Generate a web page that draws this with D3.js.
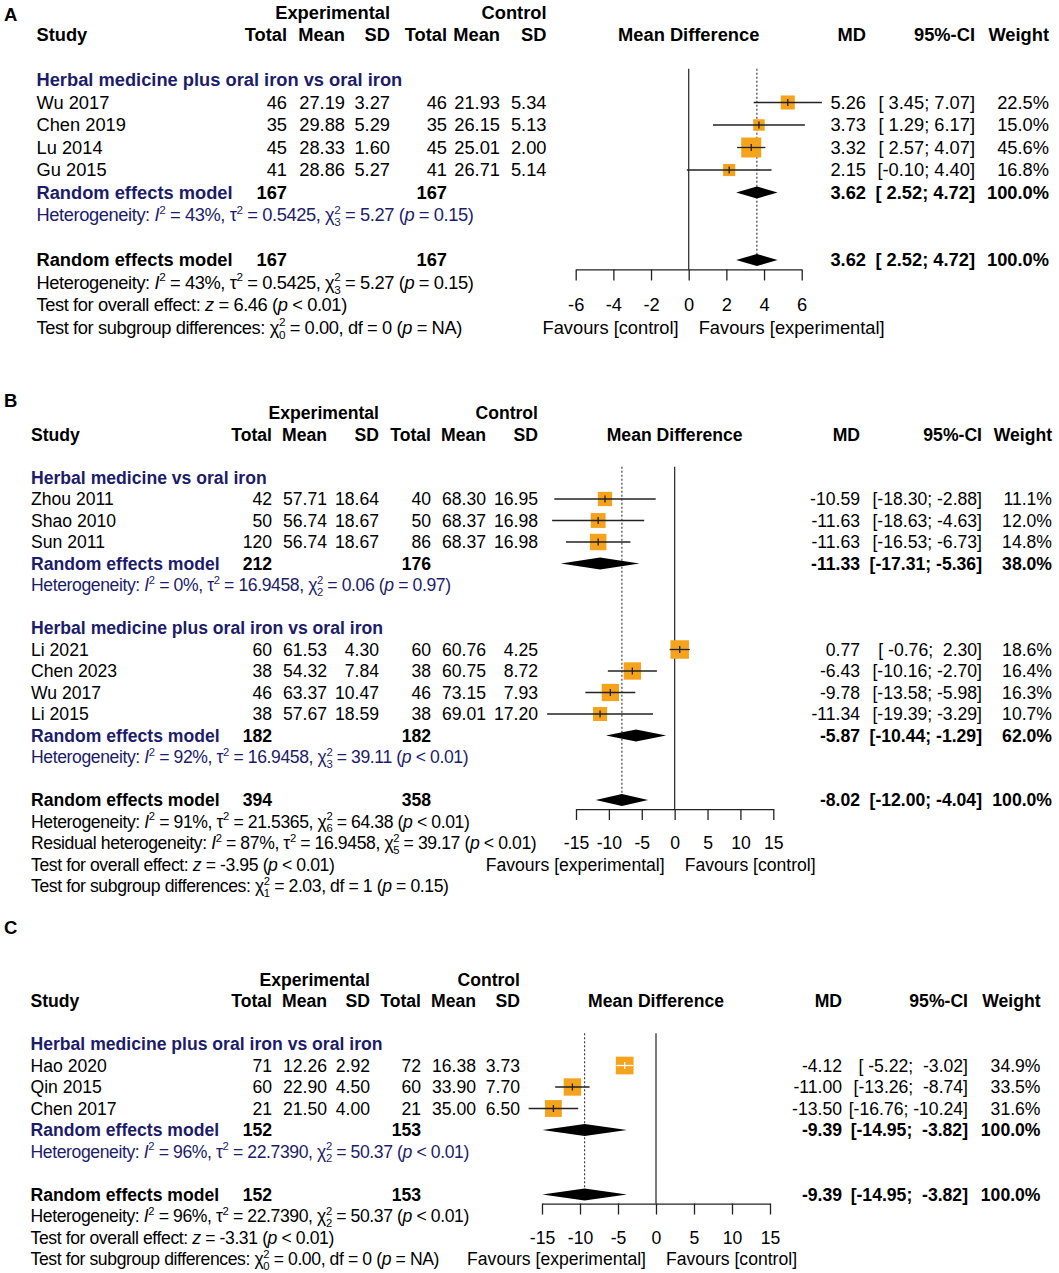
<!DOCTYPE html>
<html>
<head>
<meta charset="utf-8">
<style>
  body { margin: 0; background: #fff; }
  svg text { font-family: "Liberation Sans", Arial, Helvetica, sans-serif; white-space: pre; }
</style>
</head>
<body>
<div id="chart"></div>
<script src="https://d3js.org/d3.v7.min.js"></script>
<script>
// ---------- panel A ----------
const ticksA = [-6, -4, -2, 0, 2, 4, 6];
const favoursA = ['Favours [control]', 'Favours [experimental]'];
const groupA1 = 'Herbal medicine plus oral iron vs oral iron';
const studiesA1 = [
  { study: 'Wu 2017',   eN: 46, eM: 27.19, eSD: 3.27, cN: 46, cM: 21.93, cSD: 5.34, md: 5.26, lo: 3.45, hi: 7.07, w: 22.5 },
  { study: 'Chen 2019', eN: 35, eM: 29.88, eSD: 5.29, cN: 35, cM: 26.15, cSD: 5.13, md: 3.73, lo: 1.29, hi: 6.17, w: 15.0 },
  { study: 'Lu 2014',   eN: 45, eM: 28.33, eSD: 1.60, cN: 45, cM: 25.01, cSD: 2.00, md: 3.32, lo: 2.57, hi: 4.07, w: 45.6 },
  { study: 'Gu 2015',   eN: 41, eM: 28.86, eSD: 5.27, cN: 41, cM: 26.71, cSD: 5.14, md: 2.15, lo: -0.10, hi: 4.40, w: 16.8 },
];
const poolA1 = { eN: 167, cN: 167, md: 3.62, lo: 2.52, hi: 4.72, w: 100.0 };
const hetA1 = { i2: '43%', tau2: '0.5425', df: '3', q: '5.27', p: '= 0.15' };
const overallA = { eN: 167, cN: 167, md: 3.62, lo: 2.52, hi: 4.72, w: 100.0 };
const hetOverallA = { i2: '43%', tau2: '0.5425', df: '3', q: '5.27', p: '= 0.15' };
const testA = { z: '6.46', p: '< 0.01' };
const subTestA = { q: '0.00', df: '0', p: '= NA' };

// ---------- panel B ----------
const ticksB = [-15, -10, -5, 0, 5, 10, 15];
const favoursB = ['Favours [experimental]', 'Favours [control]'];
const groupB1 = 'Herbal medicine vs oral iron';
const studiesB1 = [
  { study: 'Zhou 2011', eN: 42,  eM: 57.71, eSD: 18.64, cN: 40, cM: 68.30, cSD: 16.95, md: -10.59, lo: -18.30, hi: -2.88, w: 11.1 },
  { study: 'Shao 2010', eN: 50,  eM: 56.74, eSD: 18.67, cN: 50, cM: 68.37, cSD: 16.98, md: -11.63, lo: -18.63, hi: -4.63, w: 12.0 },
  { study: 'Sun 2011',  eN: 120, eM: 56.74, eSD: 18.67, cN: 86, cM: 68.37, cSD: 16.98, md: -11.63, lo: -16.53, hi: -6.73, w: 14.8 },
];
const poolB1 = { eN: 212, cN: 176, md: -11.33, lo: -17.31, hi: -5.36, w: 38.0 };
const hetB1 = { i2: '0%', tau2: '16.9458', df: '2', q: '0.06', p: '= 0.97' };
const groupB2 = 'Herbal medicine plus oral iron vs oral iron';
const studiesB2 = [
  { study: 'Li 2021',   eN: 60, eM: 61.53, eSD: 4.30,  cN: 60, cM: 60.76, cSD: 4.25,  md: 0.77,   lo: -0.76,  hi: 2.30,  w: 18.6 },
  { study: 'Chen 2023', eN: 38, eM: 54.32, eSD: 7.84,  cN: 38, cM: 60.75, cSD: 8.72,  md: -6.43,  lo: -10.16, hi: -2.70, w: 16.4 },
  { study: 'Wu 2017',   eN: 46, eM: 63.37, eSD: 10.47, cN: 46, cM: 73.15, cSD: 7.93,  md: -9.78,  lo: -13.58, hi: -5.98, w: 16.3 },
  { study: 'Li 2015',   eN: 38, eM: 57.67, eSD: 18.59, cN: 38, cM: 69.01, cSD: 17.20, md: -11.34, lo: -19.39, hi: -3.29, w: 10.7 },
];
const poolB2 = { eN: 182, cN: 182, md: -5.87, lo: -10.44, hi: -1.29, w: 62.0 };
const hetB2 = { i2: '92%', tau2: '16.9458', df: '3', q: '39.11', p: '< 0.01' };
const overallB = { eN: 394, cN: 358, md: -8.02, lo: -12.00, hi: -4.04, w: 100.0 };
const hetOverallB = { i2: '91%', tau2: '21.5365', df: '6', q: '64.38', p: '< 0.01' };
const residB = { i2: '87%', tau2: '16.9458', df: '5', q: '39.17', p: '< 0.01' };
const testB = { z: '-3.95', p: '< 0.01' };
const subTestB = { q: '2.03', df: '1', p: '= 0.15' };

// ---------- panel C ----------
const ticksC = [-15, -10, -5, 0, 5, 10, 15];
const favoursC = ['Favours [experimental]', 'Favours [control]'];
const groupC1 = 'Herbal medicine plus oral iron vs oral iron';
const studiesC1 = [
  { study: 'Hao 2020',  eN: 71, eM: 12.26, eSD: 2.92, cN: 72, cM: 16.38, cSD: 3.73, md: -4.12,  lo: -5.22,  hi: -3.02,  w: 34.9 },
  { study: 'Qin 2015',  eN: 60, eM: 22.90, eSD: 4.50, cN: 60, cM: 33.90, cSD: 7.70, md: -11.00, lo: -13.26, hi: -8.74,  w: 33.5 },
  { study: 'Chen 2017', eN: 21, eM: 21.50, eSD: 4.00, cN: 21, cM: 35.00, cSD: 6.50, md: -13.50, lo: -16.76, hi: -10.24, w: 31.6 },
];
const poolC1 = { eN: 152, cN: 153, md: -9.39, lo: -14.95, hi: -3.82, w: 100.0 };
const hetC1 = { i2: '96%', tau2: '22.7390', df: '2', q: '50.37', p: '< 0.01' };
const overallC = { eN: 152, cN: 153, md: -9.39, lo: -14.95, hi: -3.82, w: 100.0 };
const hetOverallC = { i2: '96%', tau2: '22.7390', df: '2', q: '50.37', p: '< 0.01' };
const testC = { z: '-3.31', p: '< 0.01' };
const subTestC = { q: '0.00', df: '0', p: '= NA' };

// ---------- layout ----------
const width = 1059;
const height = 1273;
const squareColor = '#f5a31d';
const navy = '#1c1c6b';

const panels = [
  {
    letter: 'A', letterY: 15, top: 35, step: 22.5, fs: 18.3,
    cols: { study: 36.5, eN: 287, eM: 345, eSD: 390, cN: 447, cM: 500, cSD: 546.5, md: 866, ci: 975, w: 1049 },
    plot: [575.7, 801.7], maxSide: 20, ticks: ticksA, favours: favoursA,
    groups: [{ name: groupA1, studies: studiesA1, pool: poolA1, het: hetA1 }],
    overall: overallA, het: hetOverallA, resid: null, test: testA, sub: subTestA,
  },
  {
    letter: 'B', letterY: 401, top: 434.5, step: 21.5, fs: 17.6,
    cols: { study: 31, eN: 272, eM: 327, eSD: 379, cN: 431, cM: 486, cSD: 538, md: 860, ci: 982, w: 1052 },
    plot: [576, 773.3], maxSide: 18.5, ticks: ticksB, favours: favoursB,
    groups: [
      { name: groupB1, studies: studiesB1, pool: poolB1, het: hetB1 },
      { name: groupB2, studies: studiesB2, pool: poolB2, het: hetB2 },
    ],
    overall: overallB, het: hetOverallB, resid: residB, test: testB, sub: subTestB,
  },
  {
    letter: 'C', letterY: 928, top: 1001, step: 21.5, fs: 17.6,
    cols: { study: 30.5, eN: 272, eM: 327, eSD: 370, cN: 421, cM: 476, cSD: 520, md: 842, ci: 968, w: 1040.5 },
    plot: [542, 770], maxSide: 17.7, ticks: ticksC, favours: favoursC,
    groups: [{ name: groupC1, studies: studiesC1, pool: poolC1, het: hetC1 }],
    overall: overallC, het: hetOverallC, resid: null, test: testC, sub: subTestC,
  },
];

const svg = d3.select('#chart').append('svg')
  .attr('width', width)
  .attr('height', height);
svg.append('rect').attr('width', width).attr('height', height).attr('fill', '#fff');

function txt(g, x, y, s, fs, o = {}) {
  return g.append('text')
    .attr('x', x)
    .attr('y', y)
    .attr('dy', '0.35em')
    .attr('text-anchor', o.anchor || 'start')
    .style('font-size', fs + 'px')
    .style('font-weight', o.bold ? 'bold' : 'normal')
    .style('fill', o.color || '#000')
    .text(s);
}

// text with italic letters and stacked super/subscripts
function rich(g, x, y, parts, fs, color) {
  const t = g.append('text')
    .attr('x', x)
    .attr('y', y + 0.35 * fs)
    .style('font-size', fs + 'px')
    .style('letter-spacing', '-0.4px')
    .style('fill', color);
  const sfs = 0.64 * fs;
  let back = 0;
  parts.forEach((p) => {
    if (typeof p === 'string' || p.it) {
      const s = t.append('tspan').text(typeof p === 'string' ? p : p.it);
      if (p.it) s.style('font-style', 'italic');
      if (back) s.attr('dy', back);
      back = 0;
    } else {
      t.append('tspan').attr('dy', -0.42 * fs + back).style('font-size', sfs + 'px').text(p.sup);
      back = 0.42 * fs;
      if (p.sub !== undefined) {
        t.append('tspan').attr('dx', -0.556 * sfs + 0.4).attr('dy', 0.68 * fs)
          .style('font-size', sfs + 'px').text(p.sub);
        back = -0.26 * fs;
      }
    }
  });
}

function hetParts(label, h) {
  return [label + ': ', { it: 'I' }, { sup: '2' }, ` = ${h.i2}, \u03c4`, { sup: '2' },
    ` = ${h.tau2}, \u03c7`, { sup: '2', sub: h.df }, ` = ${h.q} (`, { it: 'p' }, ` ${h.p})`];
}

function drawPanel(cfg) {
  const g = svg.append('g');
  const fs = cfg.fs;
  const c = cfg.cols;
  const rowY = d3.scaleLinear().domain([0, 1]).range([cfg.top, cfg.top + cfg.step]);

  // all estimate rows, to know how to pad the CI text
  const allRows = [];
  cfg.groups.forEach((gr) => { allRows.push(...gr.studies, gr.pool); });
  allRows.push(cfg.overall);
  const loLen = d3.max(allRows, (d) => d.lo.toFixed(2).length);
  const hiLen = d3.max(allRows, (d) => d.hi.toFixed(2).length);
  const ciText = (d) => '[' + d.lo.toFixed(2).padStart(loLen) + '; ' + d.hi.toFixed(2).padStart(hiLen) + ']';

  const maxW = d3.max(cfg.groups, (gr) => d3.max(gr.studies, (d) => d.w));
  const side = d3.scaleSqrt().domain([0, maxW]).range([0, cfg.maxSide]);
  const x = d3.scaleLinear().domain([cfg.ticks[0], cfg.ticks[cfg.ticks.length - 1]]).range(cfg.plot);
  const half = 6;

  // letter and headers
  txt(g, 4, cfg.letterY, cfg.letter, 18.5, { bold: true });
  txt(g, c.eSD, rowY(-1), 'Experimental', fs, { bold: true, anchor: 'end' });
  txt(g, c.cSD, rowY(-1), 'Control', fs, { bold: true, anchor: 'end' });
  txt(g, c.study, rowY(0), 'Study', fs, { bold: true });
  [['eN', 'Total'], ['eM', 'Mean'], ['eSD', 'SD'], ['cN', 'Total'], ['cM', 'Mean'], ['cSD', 'SD'],
    ['md', 'MD'], ['ci', '95%-CI'], ['w', 'Weight']].forEach(([k, s]) => {
    txt(g, c[k], rowY(0), s, fs, { bold: true, anchor: 'end' });
  });
  txt(g, (cfg.plot[0] + cfg.plot[1]) / 2, rowY(0), 'Mean Difference', fs, { bold: true, anchor: 'middle' });

  const marks = g.append('g');
  const diamond = (d, y) => {
    marks.append('polygon')
      .attr('points', [[x(d.lo), y], [x(d.md), y - half], [x(d.hi), y], [x(d.md), y + half]].join(' '))
      .attr('fill', '#000');
  };
  const pooledRow = (d, y, color) => {
    txt(g, c.study, y, 'Random effects model', fs, { bold: true, color: color });
    txt(g, c.eN, y, String(d.eN), fs, { bold: true, anchor: 'end' });
    txt(g, c.cN, y, String(d.cN), fs, { bold: true, anchor: 'end' });
    txt(g, c.md, y, d.md.toFixed(2), fs, { bold: true, anchor: 'end' });
    txt(g, c.ci, y, ciText(d), fs, { bold: true, anchor: 'end' });
    txt(g, c.w, y, d.w.toFixed(1) + '%', fs, { bold: true, anchor: 'end' });
    diamond(d, y);
  };

  let r = 2;
  cfg.groups.forEach((gr) => {
    txt(g, c.study, rowY(r), gr.name, fs, { bold: true, color: navy });
    gr.studies.forEach((d, i) => {
      const y = rowY(r + 1 + i);
      txt(g, c.study, y, d.study, fs);
      txt(g, c.eN, y, String(d.eN), fs, { anchor: 'end' });
      txt(g, c.eM, y, d.eM.toFixed(2), fs, { anchor: 'end' });
      txt(g, c.eSD, y, d.eSD.toFixed(2), fs, { anchor: 'end' });
      txt(g, c.cN, y, String(d.cN), fs, { anchor: 'end' });
      txt(g, c.cM, y, d.cM.toFixed(2), fs, { anchor: 'end' });
      txt(g, c.cSD, y, d.cSD.toFixed(2), fs, { anchor: 'end' });
      txt(g, c.md, y, d.md.toFixed(2), fs, { anchor: 'end' });
      txt(g, c.ci, y, ciText(d), fs, { anchor: 'end' });
      txt(g, c.w, y, d.w.toFixed(1) + '%', fs, { anchor: 'end' });

      const s = side(d.w);
      marks.append('rect')
        .attr('x', x(d.md) - s / 2).attr('y', y - s / 2)
        .attr('width', s).attr('height', s)
        .attr('fill', squareColor);
      const inside = x(d.hi) - x(d.lo) < s;
      const lineColor = inside ? '#fff' : '#222';
      marks.append('line')
        .attr('x1', x(d.lo)).attr('x2', x(d.hi)).attr('y1', y).attr('y2', y)
        .attr('stroke', lineColor).attr('stroke-width', 1.3);
      marks.append('line')
        .attr('x1', x(d.md)).attr('x2', x(d.md)).attr('y1', y - 3.5).attr('y2', y + 3.5)
        .attr('stroke', lineColor).attr('stroke-width', 1.3);
    });
    const n = gr.studies.length;
    pooledRow(gr.pool, rowY(r + n + 1), navy);
    rich(g, c.study, rowY(r + n + 2), hetParts('Heterogeneity', gr.het), fs, navy);
    r += n + 4;
  });

  const ov = r;
  pooledRow(cfg.overall, rowY(ov), '#000');
  let k = ov + 1;
  rich(g, c.study, rowY(k++), hetParts('Heterogeneity', cfg.het), fs, '#000');
  if (cfg.resid) rich(g, c.study, rowY(k++), hetParts('Residual heterogeneity', cfg.resid), fs, '#000');
  rich(g, c.study, rowY(k++), ['Test for overall effect: ', { it: 'z' }, ` = ${cfg.test.z} (`, { it: 'p' }, ` ${cfg.test.p})`], fs, '#000');
  rich(g, c.study, rowY(k++), ['Test for subgroup differences: \u03c7', { sup: '2', sub: cfg.sub.df },
    ` = ${cfg.sub.q}, df = ${cfg.sub.df} (`, { it: 'p' }, ` ${cfg.sub.p})`], fs, '#000');

  // reference lines
  const axisY = rowY(ov) + 0.42 * cfg.step;
  g.insert('line', ':first-child')
    .attr('x1', x(0)).attr('x2', x(0)).attr('y1', rowY(1.5)).attr('y2', axisY)
    .attr('stroke', '#333').attr('stroke-width', 1.3);
  g.insert('line', ':first-child')
    .attr('x1', x(cfg.overall.md)).attr('x2', x(cfg.overall.md)).attr('y1', rowY(1.5)).attr('y2', rowY(ov))
    .attr('stroke', '#333').attr('stroke-width', 1.1).attr('stroke-dasharray', '2,2');

  // axis
  const axis = g.append('g')
    .attr('transform', `translate(0,${axisY})`)
    .call(d3.axisBottom(x).tickValues(cfg.ticks).tickSize(11).tickSizeOuter(0).tickFormat((d) => String(d)))
    .attr('font-size', null)
    .attr('font-family', null);
  axis.selectAll('path, line').attr('stroke', '#222').attr('stroke-width', 1.3);
  axis.selectAll('text')
    .attr('y', rowY(ov + 2) - axisY)
    .attr('dy', '0.35em')
    .style('font-size', fs + 'px')
    .style('fill', '#000');

  txt(g, x(0) - 10, rowY(ov + 3), cfg.favours[0], fs, { anchor: 'end' });
  txt(g, x(0) + 10, rowY(ov + 3), cfg.favours[1], fs);
}

panels.forEach(drawPanel);
</script>
</body>
</html>
